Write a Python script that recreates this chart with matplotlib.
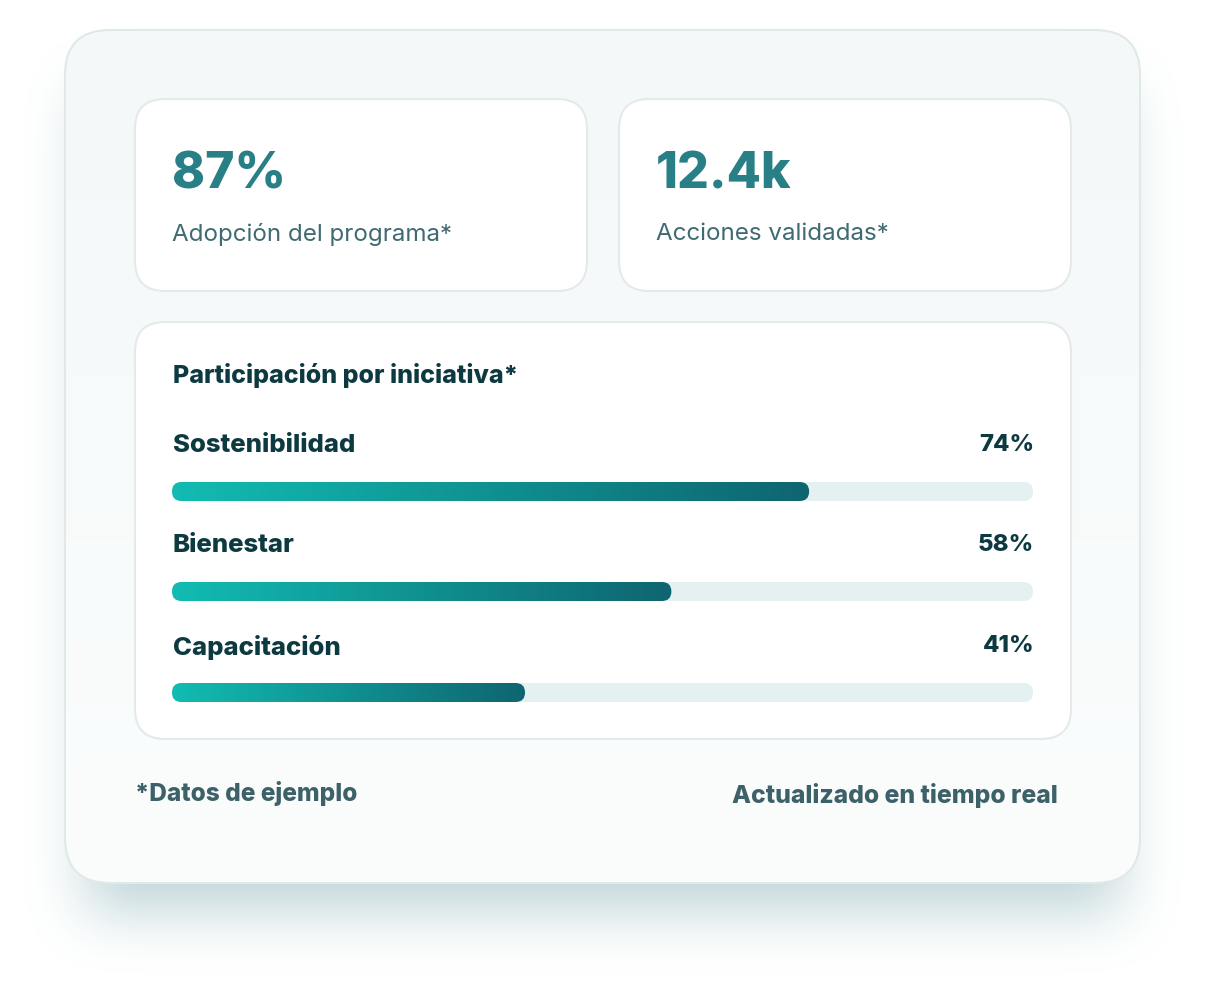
import numpy as np
import matplotlib
matplotlib.use("Agg")
import matplotlib.pyplot as plt
from matplotlib.patches import FancyBboxPatch
from matplotlib.colors import LinearSegmentedColormap

# datos del tablero
kpi_values = ["87%", "12.4k"]
kpi_labels = ["Adopción del programa*", "Acciones validadas*"]
panel_title = "Participación por iniciativa*"
initiatives = ["Sostenibilidad", "Bienestar", "Capacitación"]
participation = [74, 58, 41]
footer_left = "*Datos de ejemplo"
footer_right = "Actualizado en tiempo real"

W, H = 1206, 986
FONT = ["Inter", "DejaVu Sans"]
HEAVY = 800

fig = plt.figure(figsize=(W / 100, H / 100), dpi=100)
ax = fig.add_axes([0, 0, 1, 1])
ax.set_xlim(0, W)
ax.set_ylim(H, 0)
ax.axis("off")
fig.patch.set_facecolor("white")


def box_blur(a, r):
    # three passes of a box blur ~ gaussian
    for _ in range(3):
        for axis in (0, 1):
            c = np.cumsum(np.pad(a, [(r + 1, r) if i == axis else (0, 0) for i in range(2)], mode="edge"), axis=axis)
            if axis == 0:
                a = (c[2 * r + 1:] - c[:-2 * r - 1]) / (2 * r + 1)
            else:
                a = (c[:, 2 * r + 1:] - c[:, :-2 * r - 1]) / (2 * r + 1)
    return a


def rounded(x0, y0, x1, y1, r, **kw):
    p = FancyBboxPatch((x0, y0), x1 - x0, y1 - y0,
                       boxstyle=f"round,pad=0,rounding_size={r}", **kw)
    ax.add_patch(p)
    return p


# sombra de la tarjeta principal
card = (65, 30, 1140, 883)
yy, xx = np.mgrid[0:H, 0:W]
mask = ((xx > card[0] + 20) & (xx < card[2] - 20) & (yy > card[1] + 60) & (yy < card[3] + 28)).astype(float)
shadow = box_blur(mask, 27)
rgba = np.zeros((H, W, 4))
rgba[..., 0] = 0.50
rgba[..., 1] = 0.67
rgba[..., 2] = 0.70
rgba[..., 3] = shadow * 0.5
ax.imshow(rgba, extent=[0, W, H, 0], zorder=0, interpolation="bilinear")

# tarjeta principal con degradado vertical
rounded(*card, 45, facecolor="none", edgecolor="#e1e8e8", linewidth=1.5, zorder=2)
bg_cmap = LinearSegmentedColormap.from_list("bg", ["#f4f8f8", "#fbfdfd"])
bg = ax.imshow(np.linspace(0, 1, 256).reshape(-1, 1), cmap=bg_cmap, aspect="auto",
               extent=[card[0], card[2], card[3], card[1]], zorder=1)
bg_clip = rounded(*card, 45, facecolor="none", edgecolor="none", zorder=1)
bg.set_clip_path(bg_clip)

# tarjetas KPI
kpi_boxes = [(135, 99, 587, 291), (619, 99, 1071, 291)]
for (x0, y0, x1, y1), val, lab in zip(kpi_boxes, kpi_values, kpi_labels):
    rounded(x0, y0, x1, y1, 30, facecolor="white", edgecolor="#e4eaea", linewidth=1.5, zorder=3)
    ax.text(x0 + 37, y0 + 76, val, fontsize=36, fontweight=HEAVY, color="#287f86",
            family=FONT, va="center", ha="left", zorder=4)
    ax.text(x0 + 37, y0 + 135, lab, fontsize=17.4, color="#3f6a72",
            family=FONT, va="center", ha="left", zorder=4)

# panel de barras
panel = (135, 322, 1071, 739)
rounded(*panel, 30, facecolor="white", edgecolor="#e4eaea", linewidth=1.5, zorder=3)
ax.text(173, 376, panel_title, fontsize=18, fontweight=HEAVY, color="#0d3a40",
        family=FONT, va="center", ha="left", zorder=4)

track_x0, track_x1 = 172, 1033
bar_h = 19
bar_tops = [482, 582, 683]
bar_cmap = LinearSegmentedColormap.from_list("bar", ["#12bcb2", "#0e6570"])
for name, pct, top in zip(initiatives, participation, bar_tops):
    ax.text(173, top - 36, name, fontsize=18.5, fontweight=HEAVY, color="#0d3a40",
            family=FONT, va="center", ha="left", zorder=4)
    ax.text(track_x1 + 1, top - 37, f"{pct}%", fontsize=17.2, fontweight=HEAVY, color="#0d3a40",
            family=FONT, va="center", ha="right", zorder=4)
    rounded(track_x0, top, track_x1, top + bar_h, bar_h / 2, facecolor="#e5f0f0",
            edgecolor="none", zorder=4)
    x_end = track_x0 + (track_x1 - track_x0) * pct / 100
    clip = rounded(track_x0, top, x_end, top + bar_h, bar_h / 2, facecolor="none",
                   edgecolor="none", zorder=5)
    im = ax.imshow(np.linspace(0, 1, 256).reshape(1, -1), cmap=bar_cmap, aspect="auto",
                   extent=[track_x0, x_end, top + bar_h, top], zorder=5)
    im.set_clip_path(clip)

# pie de tarjeta
ax.text(135, 794, footer_left, fontsize=17.6, fontweight=HEAVY, color="#3d6169",
        family=FONT, va="center", ha="left", zorder=4)
ax.text(1058, 796, footer_right, fontsize=17.8, fontweight=HEAVY, color="#3d6169",
        family=FONT, va="center", ha="right", zorder=4)

ax.set_xlim(0, W)
ax.set_ylim(H, 0)
fig.savefig("out.png", dpi=100)
